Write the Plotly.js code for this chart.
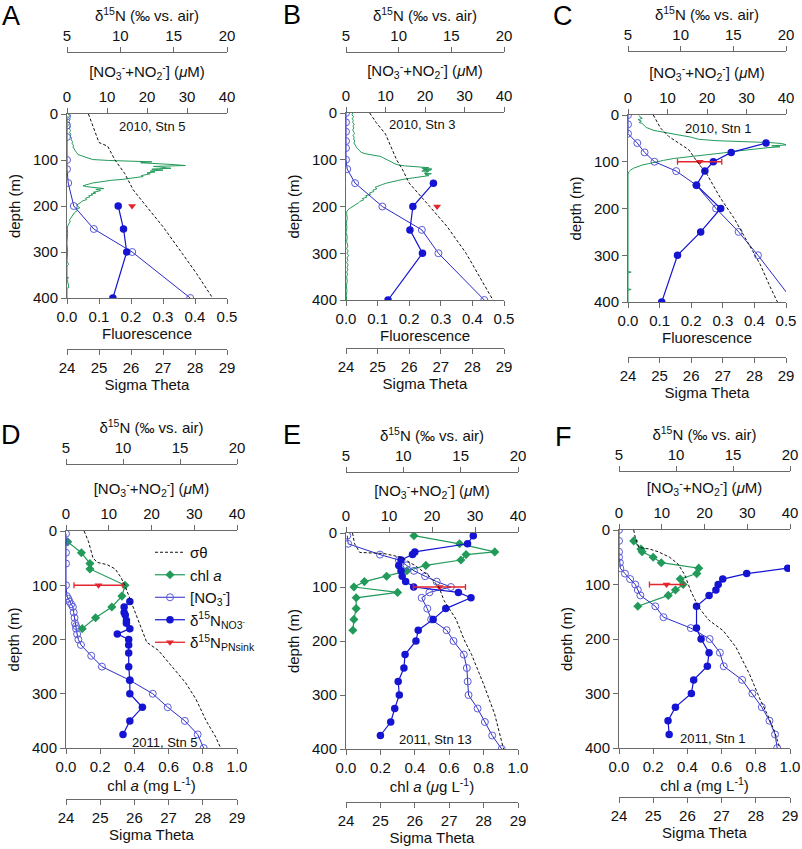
<!DOCTYPE html>
<html><head><meta charset="utf-8">
<script src="https://cdn.plot.ly/plotly-3.0.1.min.js"></script>
<style>body{margin:0;padding:0;background:#fff}#chart{width:802px;height:849px}</style>
</head><body><div id="chart"></div>
<script>
// ---------------- DATA ----------------
const panelLetters = ['A','B','C','D','E','F'];
const stationLabels = ['2010, Stn 5','2010, Stn 3','2010, Stn 1','2011, Stn 5','2011, Stn 13','2011, Stn 1'];

// Panel A (2010, Stn 5)
const A_fl_depth = [0,4,8,12,16,20,24,28,32,36,40,44,48,52,56,60,64,68,72,76,80,84,88,91,94,97,99,101,103,104,106,108,110,112,113,114,115,117,118,119,120,122,123,124,126,128,130,132,134,136,138,140,142,144,146,148,150,152,154,156,158,160,162,164,166,168,170,172,174,176,178,180,183,186,189,192,195,198,201,204,207,210,214,218,222,226,230,234,238,242,248,260,280,300,320,327,330,355,356,358,377,379,400];
const A_fl = [0.004,0.008,0.005,0.010,0.006,0.009,0.005,0.010,0.007,0.011,0.008,0.012,0.010,0.014,0.013,0.017,0.016,0.020,0.019,0.024,0.026,0.030,0.034,0.046,0.060,0.072,0.080,0.130,0.200,0.265,0.230,0.300,0.335,0.370,0.320,0.270,0.290,0.310,0.325,0.285,0.265,0.300,0.280,0.260,0.275,0.250,0.260,0.240,0.232,0.238,0.220,0.205,0.175,0.140,0.115,0.095,0.080,0.070,0.058,0.050,0.062,0.095,0.115,0.090,0.105,0.098,0.082,0.090,0.075,0.080,0.068,0.072,0.058,0.062,0.048,0.044,0.036,0.030,0.034,0.040,0.028,0.032,0.024,0.020,0.016,0.012,0.008,0.010,0.005,0.003,0.001,0.002,0.000,0.002,0.000,0.005,0.000,0.000,0.005,0.000,0.006,0.000,0.000];
const A_no3_depth = [5,25,50,100,120,150,200,250,300,400];
const A_no3 = [0,0,0,0,0,0.3,1.7,6.7,16.3,30.8];
const A_d15n_depth = [200,250,300,400];
const A_d15n = [9.8,10.3,10.6,9.3];
const A_sink_depth = [200];
const A_sink = [11.1];
const A_sink_err = [null];
const A_sig_depth = [0,62,70,100,129,165,198,245,303,347,400];
const A_sig = [24.67,25.0,25.27,25.5,25.8,26.07,26.45,27.0,27.6,28.05,28.55];

// Panel B (2010, Stn 3)
const B_fl_depth = [0,4,8,12,16,20,24,28,32,36,40,44,48,52,56,60,64,68,72,76,80,84,87,90,93,96,99,102,105,108,111,113,115,117,118,119,120,121,122,124,125,127,129,130,132,134,136,138,140,142,144,146,148,150,153,156,159,162,165,168,171,174,177,180,183,186,189,192,195,198,201,204,207,210,215,225,235,245,255,265,275,285,290,295,300,305,310,315,320,325,330,335,340,345,350,360,370,380,390,400];
const B_fl = [0.021,0.019,0.024,0.020,0.023,0.021,0.026,0.022,0.025,0.021,0.024,0.027,0.022,0.026,0.024,0.028,0.025,0.030,0.032,0.036,0.042,0.048,0.060,0.085,0.110,0.118,0.128,0.136,0.145,0.152,0.165,0.185,0.222,0.262,0.240,0.250,0.272,0.245,0.268,0.240,0.262,0.255,0.248,0.270,0.250,0.262,0.235,0.215,0.200,0.180,0.165,0.150,0.140,0.128,0.115,0.105,0.092,0.098,0.085,0.088,0.074,0.078,0.062,0.066,0.052,0.056,0.044,0.040,0.032,0.028,0.020,0.012,0.006,0.003,0.002,0.004,0.001,0.003,0.000,0.004,0.002,0.006,0.002,0.007,0.003,0.008,0.003,0.006,0.002,0.007,0.003,0.006,0.002,0.005,0.002,0.004,0.001,0.003,0.001,0.002];
const B_no3_depth = [0,20,40,60,75,100,120,150,200,250,300,400];
const B_no3 = [0,0,0,0,0,0,0.3,2.3,9.2,19.2,23.4,35.0];
const B_d15n_depth = [150,200,250,300,400];
const B_d15n = [13.3,11.35,11.07,12.26,8.99];
const B_sink_depth = [200];
const B_sink = [13.65];
const B_sink_err = [null];
const B_sig_depth = [0,20,45,80,100,120,150,200,243,300,350,400];
const B_sig = [24.75,24.95,25.25,25.47,25.6,25.78,26.0,26.65,27.2,27.8,28.23,28.65];

// Panel C (2010, Stn 1)
const C_fl_depth = [1,4,7,10,13,16,18,21,24,27,30,33,35,38,41,44,47,50,52,55,57,59,61,63,64,66,68,70,72,75,78,81,84,87,90,93,97,100,104,107,111,114,118,122,127,200,335,336,338,372,373,375,400];
const C_fl = [0.035,0.038,0.045,0.032,0.042,0.035,0.045,0.048,0.053,0.059,0.069,0.082,0.098,0.119,0.145,0.171,0.197,0.213,0.224,0.282,0.387,0.450,0.486,0.500,0.503,0.455,0.481,0.440,0.407,0.366,0.334,0.302,0.260,0.218,0.182,0.145,0.113,0.087,0.066,0.045,0.027,0.017,0.008,0.002,0.0,0.0,0.0,0.010,0.0,0.0,0.010,0.0,0.0];
const C_no3_depth = [0,20,40,60,80,100,120,150,200,250,300,400];
const C_no3 = [0,0,0,2.35,4.2,6.7,12.2,17.3,22.3,28.0,32.9,42.0];
const C_d15n_depth = [60,80,100,120,150,200,250,300,400];
const C_d15n = [18.1,14.8,13.1,12.3,11.5,13.8,11.9,9.7,8.2];
const C_sink_depth = [100];
const C_sink = [11.8];
const C_sink_err = [2.1];
const C_sig_depth = [0,28,46,57,74,99,127,177,219,269,319,368,400];
const C_sig = [24.8,25.03,25.29,25.55,25.92,26.18,26.5,26.92,27.34,27.76,28.18,28.5,28.73];

// Panel D (2011, Stn 5)
const D_chl_depth = [20,40,60,70,100,120,140,160,180];
const D_chl = [0.01,0.09,0.14,0.14,0.345,0.327,0.268,0.173,0.095];
const D_no3_depth = [5,20,40,60,100,120,125,130,135,140,150,160,170,175,180,190,200,210,230,250,275,300,325,350,375,400];
const D_no3 = [0,0,0,0,0,0.2,0.55,0.8,1.2,1.6,1.8,2.0,2.1,2.35,2.35,2.6,2.9,3.5,5.9,8.4,14.9,20.3,23.8,27.8,30.8,32.2];
const D_d15n_depth = [130,140,150,155,165,170,180,190,200,210,225,250,275,300,325,350,375];
const D_d15n = [10.6,10.1,10.1,10.2,10.3,10.3,10.6,9.5,10.5,10.5,10.5,10.5,10.6,10.6,11.7,10.6,10.0];
const D_sink_depth = [100];
const D_sink = [7.85];
const D_sink_err = [2.15];
const D_sig_depth = [0,20,50,58,62,70,85,100,125,150,180,205,220,250,280,310,350,380,400];
const D_sig = [24.53,24.66,24.79,24.92,25.2,25.44,25.6,25.72,25.87,26.02,26.2,26.36,26.7,27.1,27.5,27.8,28.1,28.38,28.52];

// Panel E (2011, Stn 13)
const E_chl_depth = [5,20,35,40,50,60,70,80,90,100,110,120,140,160,180];
const E_chl = [0.395,0.66,0.865,0.698,0.668,0.464,0.354,0.236,0.107,0.046,0.30,0.059,0.059,0.046,0.04];
const E_no3_depth = [5,20,40,50,60,70,80,90,100,110,120,140,160,180,200,225,250,275,300,325,350,375,400];
const E_no3 = [0.3,0.5,7.9,12.3,14.1,15.8,18.4,21.1,24.4,19.4,17.6,18.9,19.8,23.4,25.0,27.4,28.1,28.3,28.5,30.6,32.3,34.0,36.2];
const E_d15n_depth = [5,20,35,40,50,60,70,80,90,100,110,120,140,160,180,200,225,250,275,300,325,350,375];
const E_d15n = [16.1,15.6,11.0,10.8,9.8,9.6,9.8,9.9,10.2,10.9,14.8,15.9,13.7,12.6,11.3,11.1,10.15,10.05,9.55,9.65,9.25,8.9,8.0];
const E_sink_depth = [100];
const E_sink = [13.15];
const E_sink_err = [2.27];
const E_sig_depth = [0,20,36,38,45,60,80,100,125,160,200,225,280,335,400];
const E_sig = [24.19,24.25,24.4,25.1,25.6,26.0,26.42,26.7,26.85,27.2,27.45,27.65,28.0,28.32,28.58];

// Panel F (2011, Stn 1)
const F_chl_depth = [20,35,40,50,60,70,80,90,100,110,120,140];
const F_chl = [0.086,0.128,0.135,0.2,0.247,0.466,0.455,0.358,0.375,0.33,0.288,0.11];
const F_no3_depth = [0,20,40,50,60,70,80,90,100,110,120,140,160,180,200,225,250,275,300,325,350,375,400];
const F_no3 = [0,0,0,0,0.2,0.3,1.4,2.6,3.8,4.4,5.0,8.5,10.4,16.8,21.2,23.6,24.5,28.8,31.2,33.4,35.2,36.5,37.0];
const F_d15n_depth = [70,80,90,100,110,120,140,180,200,225,250,275,300,325,350,375];
const F_d15n = [19.8,16.2,14.1,13.7,13.5,12.9,11.8,11.8,12.2,12.9,12.75,11.55,11.35,9.95,9.3,9.4];
const F_sink_depth = [100];
const F_sink = [9.17];
const F_sink_err = [1.5];
const F_sig_depth = [0,15,32,35,40,50,62,82,112,142,165,185,215,265,310,340,370,400];
const F_sig = [24.43,24.48,24.58,24.9,25.15,25.48,25.72,25.92,26.1,26.33,26.62,27.05,27.42,27.82,28.12,28.35,28.55,28.7];

// ---------------- STYLE / LAYOUT ----------------
const W = 802, H = 849;
const FONT = 'Liberation Sans, Arial, Helvetica, sans-serif';
const GREEN = '#229a5a', BLUE = '#1414d2', OPEN = '#5a5ad8', RED = '#e3262d', AXC = '#6a6a6a';

const series = [
  {fl:[A_fl_depth,A_fl], no3:[A_no3_depth,A_no3], d15:[A_d15n_depth,A_d15n], sink:[A_sink_depth,A_sink,A_sink_err], sig:[A_sig_depth,A_sig]},
  {fl:[B_fl_depth,B_fl], no3:[B_no3_depth,B_no3], d15:[B_d15n_depth,B_d15n], sink:[B_sink_depth,B_sink,B_sink_err], sig:[B_sig_depth,B_sig]},
  {fl:[C_fl_depth,C_fl], no3:[C_no3_depth,C_no3], d15:[C_d15n_depth,C_d15n], sink:[C_sink_depth,C_sink,C_sink_err], sig:[C_sig_depth,C_sig]},
  {fl:[D_chl_depth,D_chl], no3:[D_no3_depth,D_no3], d15:[D_d15n_depth,D_d15n], sink:[D_sink_depth,D_sink,D_sink_err], sig:[D_sig_depth,D_sig]},
  {fl:[E_chl_depth,E_chl], no3:[E_no3_depth,E_no3], d15:[E_d15n_depth,E_d15n], sink:[E_sink_depth,E_sink,E_sink_err], sig:[E_sig_depth,E_sig]},
  {fl:[F_chl_depth,F_chl], no3:[F_no3_depth,F_no3], d15:[F_d15n_depth,F_d15n], sink:[F_sink_depth,F_sink,F_sink_err], sig:[F_sig_depth,F_sig]}
];

const geo = [
  {xl:67, xr:227, yt:114, yb:298, d15:52, sig:349, max:0.5, dt:0.1, chl:false, bt:'Fluorescence', sx:152, sy:127, lx:11, ly:16},
  {xl:346,xr:504, yt:113, yb:300, d15:52, sig:348, max:0.5, dt:0.1, chl:false, bt:'Fluorescence', sx:422, sy:124, lx:292, ly:15},
  {xl:628,xr:786, yt:115, yb:302, d15:51, sig:357, max:0.5, dt:0.1, chl:false, bt:'Fluorescence', sx:718, sy:129, lx:563, ly:16},
  {xl:66, xr:237, yt:531, yb:748, d15:464, sig:799, max:1.0, dt:0.2, chl:true, bt:'chl <i>a</i> (mg L<sup>-1</sup>)', sx:165, sy:742, lx:11, ly:435},
  {xl:346,xr:518, yt:533, yb:749, d15:472, sig:802, max:1.0, dt:0.2, chl:true, bt:'chl <i>a</i> (<i>μ</i>g L<sup>-1</sup>)', sx:435, sy:739, lx:292, ly:435},
  {xl:619,xr:790, yt:530, yb:748, d15:471, sig:797, max:1.0, dt:0.2, chl:true, bt:'chl <i>a</i> (mg L<sup>-1</sup>)', sx:713, sy:738, lx:563, ly:437}
];

const data = [];
const layout = {
  width: W, height: H,
  margin: {l:0, r:0, t:0, b:0},
  paper_bgcolor: '#ffffff', plot_bgcolor: 'rgba(0,0,0,0)',
  font: {family: FONT, size: 15, color: '#111'},
  showlegend: true,
  legend: {x: 150/W, y: 1 - 536/H, xanchor: 'left', yanchor: 'top', bgcolor: 'rgba(0,0,0,0)',
           font: {family: FONT, size: 15, color: '#111'}, itemwidth: 30, tracegroupgap: 0, traceorder: 'normal'},
  annotations: []
};

function axBase(extra) {
  return Object.assign({
    showgrid: false, zeroline: false, showline: true, linecolor: AXC, linewidth: 1,
    ticks: 'outside', ticklen: 5, tickwidth: 1, tickcolor: AXC,
    tickfont: {family: FONT, size: 15, color: '#111'}, fixedrange: true
  }, extra);
}

series.forEach((S, p) => {
  const G = geo[p];
  const yN = p === 0 ? 'y' : 'y' + (p + 1);
  const xi = [4*p+1, 4*p+2, 4*p+3, 4*p+4];
  const xn = xi.map(i => i === 1 ? 'x' : 'x' + i);
  const xk = xi.map(i => i === 1 ? 'xaxis' : 'xaxis' + i);
  const yk = p === 0 ? 'yaxis' : 'yaxis' + (p + 1);
  const leg = (p === 3);
  const dom = [G.xl / W, G.xr / W];

  // green fluorescence / chl a
  data.push({type:'scatter', x:S.fl[1], y:S.fl[0], xaxis:xn[0], yaxis:yN,
    mode: G.chl ? 'lines+markers' : 'lines',
    line:{color:GREEN, width: G.chl ? 1.2 : 1},
    marker:{symbol:'diamond', size:7, color:GREEN},
    name:'chl <i>a</i>', showlegend:leg, legendrank:2, hoverinfo:'skip'});
  // nitrate (open circles)
  data.push({type:'scatter', x:S.no3[1], y:S.no3[0], xaxis:xn[1], yaxis:yN, mode:'lines+markers',
    line:{color:'#2a2ac8', width:1},
    marker:{symbol:'circle-open', size:7, color:OPEN, line:{width:1, color:OPEN}},
    name:'[NO<sub>3</sub><sup>-</sup>]', showlegend:leg, legendrank:3, hoverinfo:'skip'});
  // d15N nitrate (filled)
  data.push({type:'scatter', x:S.d15[1], y:S.d15[0], xaxis:xn[2], yaxis:yN, mode:'lines+markers',
    line:{color:BLUE, width:1.2},
    marker:{symbol:'circle', size:7.5, color:BLUE},
    name:'δ<sup>15</sup>N<sub>NO3<sup>-</sup></sub>', showlegend:leg, legendrank:4, hoverinfo:'skip'});
  // d15N sinking PN
  const err = S.sink[2][0];
  data.push({type:'scatter', x:S.sink[1], y:S.sink[0], xaxis:xn[2], yaxis:yN, mode:'lines+markers',
    line:{color:RED, width:1.3},
    marker:{symbol:'triangle-down', size:7, color:RED},
    error_x: err === null ? {visible:false} : {type:'data', array:S.sink[2], visible:true, color:RED, thickness:1.3, width:3},
    name:'δ<sup>15</sup>N<sub>PNsink</sub>', showlegend:leg, legendrank:5, hoverinfo:'skip'});
  // sigma theta
  data.push({type:'scatter', x:S.sig[1], y:S.sig[0], xaxis:xn[3], yaxis:yN, mode:'lines',
    line:{color:'#111', width:1, dash:'3px,2px'},
    name:'σθ', showlegend:leg, legendrank:1, hoverinfo:'skip'});

  // axes
  layout[xk[0]] = axBase({domain:dom, anchor:yN, side:'bottom', range:[0, G.max], dtick:G.dt, tick0:0, tickformat:'.1f',
    title:{text:G.bt, font:{family:FONT, size:15, color:'#111'}, standoff:4}});
  layout[xk[1]] = axBase({domain:dom, anchor:yN, overlaying:xn[0], side:'top', range:[0,40], dtick:10, tick0:0,
    title:{text:'[NO<sub>3</sub><sup>-</sup>+NO<sub>2</sub><sup>-</sup>] (<i>μ</i>M)', font:{family:FONT, size:15, color:'#111'}, standoff:6}});
  layout[xk[2]] = axBase({domain:dom, anchor:'free', position:1 - G.d15 / H, overlaying:xn[0], side:'top', range:[5,20], dtick:5, tick0:5,
    title:{text:'δ<sup>15</sup>N (‰ vs. air)', font:{family:FONT, size:15, color:'#111'}, standoff:0}});
  layout[xk[3]] = axBase({domain:dom, anchor:'free', position:1 - G.sig / H, overlaying:xn[0], side:'bottom', range:[24,29], dtick:1, tick0:24,
    title:{text:'Sigma Theta', font:{family:FONT, size:15, color:'#111'}, standoff:2}});
  layout[yk] = axBase({domain:[1 - G.yb / H, 1 - G.yt / H], anchor:xn[0], range:[400,0], dtick:100, tick0:0,
    title:{text:'depth (m)', font:{family:FONT, size:15, color:'#111'}, standoff:8}});

  // annotations
  layout.annotations.push({xref:'paper', yref:'paper', x:G.lx / W, y:1 - G.ly / H, text:panelLetters[p],
    showarrow:false, xanchor:'center', yanchor:'middle', font:{family:FONT, size:27, color:'#000'}});
  layout.annotations.push({xref:'paper', yref:'paper', x:G.sx / W, y:1 - G.sy / H, text:stationLabels[p],
    showarrow:false, xanchor:'center', yanchor:'middle', font:{family:FONT, size:13, color:'#111'}});
});

Plotly.newPlot('chart', data, layout, {staticPlot:true, displayModeBar:false});
</script></body></html>
